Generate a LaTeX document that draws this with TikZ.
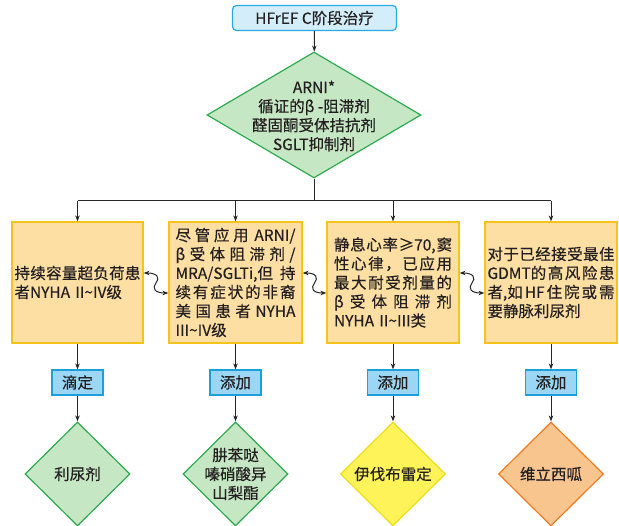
\documentclass[tikz,border=0pt]{standalone}
\usepackage{fontspec}
\setmainfont{Noto Sans CJK SC}[FakeBold=0.4]
\usetikzlibrary{shapes.geometric,arrows.meta,calc}
\definecolor{cyanL}{HTML}{D3EEFA}
\definecolor{cyanB}{HTML}{29A9E1}
\definecolor{labL}{HTML}{9BD7F4}
\definecolor{labB}{HTML}{1BA0DB}
\definecolor{grnL}{HTML}{C6E7C4}
\definecolor{grnB}{HTML}{2DAA4F}
\definecolor{goldL}{HTML}{FDDFA3}
\definecolor{goldB}{HTML}{F6C21C}
\definecolor{yelL}{HTML}{FFF35A}
\definecolor{yelB}{HTML}{EEDC1A}
\definecolor{orL}{HTML}{F9C58F}
\definecolor{orB}{HTML}{EE7B22}
\definecolor{txt}{HTML}{231F20}
\newcommand\spl[1]{\makebox[\hsize][s]{\spaceskip=0pt plus 1fil\relax #1}}
\newcommand\lfl[1]{\makebox[\hsize][l]{#1}}
\newcommand\myt{\textasciitilde}
\begin{document}
\begin{tikzpicture}[x=1pt,y=-1pt,
  font=\fontsize{15.5}{19}\selectfont, text=txt,
  conn/.style={line width=1pt, draw=black!85},
  arr/.style={conn,-{Stealth[length=6pt,width=4.5pt]}},
  dbl/.style={conn,{Stealth[length=6pt,width=4.5pt]}-{Stealth[length=6pt,width=4.5pt]}},
  topbox/.style={draw=cyanB, fill=cyanL, line width=1.2pt, rounded corners=4pt,
    minimum width=164pt, minimum height=25pt, inner sep=0pt},
  labbox/.style={draw=labB, fill=labL, line width=1.2pt,
    minimum width=51pt, minimum height=25pt, inner sep=0pt},
  obox/.style={draw=goldB, fill=goldL, line width=1.2pt,
    minimum width=132pt, minimum height=121pt, inner sep=0pt, align=left},
  dia/.style={shape=diamond, line width=1.2pt, inner sep=0pt},
  dtext/.style={align=center, inner sep=0pt}
]
\useasboundingbox (0,0) rectangle (619,526);

% top
\node[topbox] (top) at (314.5,18) {HFrEF C阶段治疗};
\node[dia, draw=grnB, fill=grnL, minimum width=214pt, minimum height=126pt] (d0) at (314,115) {};
\node[dtext] (d0t) at (314,116) {ARNI*\\循证的β -阻滞剂\\醛固酮受体拮抗剂\\SGLT抑制剂};

% boxes
\node[obox, text width=126pt, minimum width=131pt] (b1) at (77.5,282.5)
  {\spl{持 续 容 量 超 负 荷 患}\\\lfl{者NYHA II\myt IV级}};
\node[obox, text width=120pt, minimum width=133pt] (b2) at (235.5,282.5)
  {\spl{尽 管 应 用 \hspace{2pt}ARNI/}\\\spl{β 受 体 阻 滞 剂 /}\\\spl{MRA/SGLTi,但 持}\\\spl{续 有 症 状 的 非 裔}\\\spl{美 国 患 者 NYHA}\\\lfl{III\myt IV级}};
\node[obox, text width=118pt] (b3) at (393,282.5)
  {\spl{静 息 心 率 ≥70, 窦}\\\spl{性 心 律 ， 已 应 用}\\\spl{最 大 耐 受 剂 量 的}\\\spl{β 受 体 阻 滞 剂}\\\lfl{NYHA II\myt III类}};
\node[obox, text width=127pt] (b4) at (551,282.5)
  {\spl{对 于 已 经 接 受 最 佳}\\\spl{GDMT的 高 风 险 患}\\\spl{者,如 HF 住 院 或 需}\\\lfl{要静脉利尿剂}};

% labels
\node[labbox] (l1) at (77.5,382.5) {滴定};
\node[labbox] (l2) at (235.5,382.5) {添加};
\node[labbox] (l3) at (393,382.5) {添加};
\node[labbox] (l4) at (551,382.5) {添加};

% bottom diamonds
\node[dia, draw=grnB, fill=grnL, minimum width=105pt, minimum height=104pt] (dd1) at (77.5,474) {};
\node[dtext] at (dd1) {利尿剂};
\node[dia, draw=grnB, fill=grnL, minimum width=105pt, minimum height=104pt] (dd2) at (235.5,474) {};
\node[dtext] at (dd2) {肼苯哒\\嗪硝酸异\\山梨酯};
\node[dia, draw=yelB, fill=yelL, minimum width=105pt, minimum height=104pt] (dd3) at (393,474) {};
\node[dtext] at (dd3) {伊伐布雷定};
\node[dia, draw=orB, fill=orL, minimum width=105pt, minimum height=104pt] (dd4) at (551,474) {};
\node[dtext] at (dd4) {维立西呱};

% connectors
\draw[arr] (top) -- (d0);
\coordinate (busY) at (0,201);
\draw[conn] (d0.south) -- (d0.south |- busY);
\draw[conn] (b1.north |- busY) -- (b4.north |- busY);
\foreach \b in {b1,b2,b3,b4}{\draw[arr] (\b.north |- busY) -- (\b.north);}
\draw[arr] (b1) -- (l1); \draw[arr] (l1) -- (dd1);
\draw[arr] (b2) -- (l2); \draw[arr] (l2) -- (dd2);
\draw[arr] (b3) -- (l3); \draw[arr] (l3) -- (dd3);
\draw[arr] (b4) -- (l4); \draw[arr] (l4) -- (dd4);

% squiggly double arrows
\foreach \a/\c/\n in {b1/b2/1, b2/b3/2, b3/b4/3}{
  \coordinate (s\n) at ([yshift=9.5pt]\a.east);
  \coordinate (e\n) at ([yshift=-10.5pt]\c.west);
  \coordinate (m\n) at ($(s\n)!0.5!(e\n)$);
  \draw[dbl] (s\n) .. controls ($(s\n)+(14,0)$) and ($(m\n)+(4,-5)$) .. (m\n)
    .. controls ($(m\n)+(-4,5)$) and ($(e\n)+(-14,0)$) .. (e\n);
}
\end{tikzpicture}
\end{document}
